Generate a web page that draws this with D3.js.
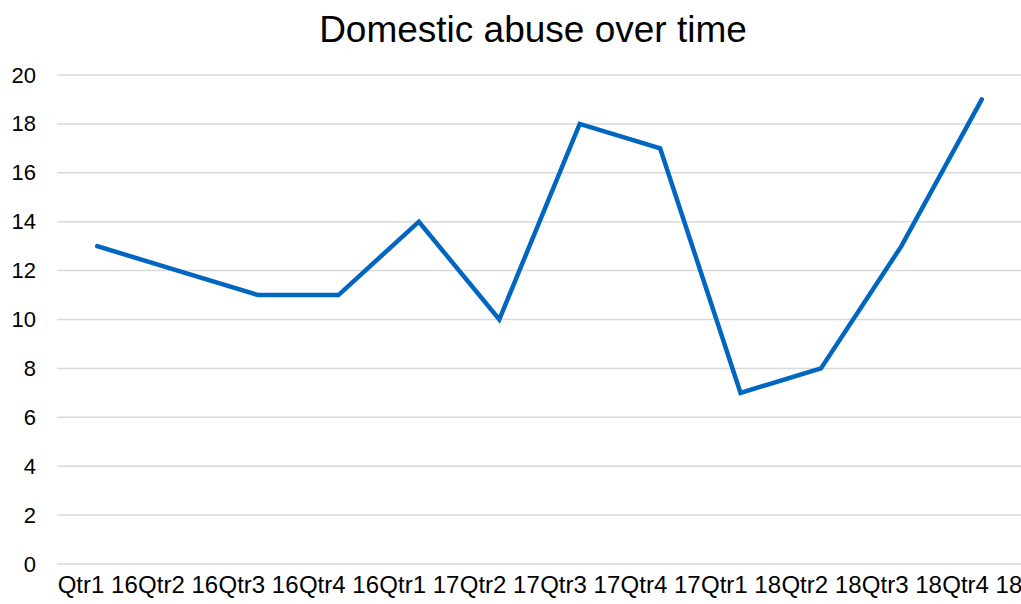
<!DOCTYPE html>
<html>
<head>
<meta charset="utf-8">
<script src="https://cdn.jsdelivr.net/npm/d3@7"></script>
<style>
  html, body { margin: 0; padding: 0; background: #ffffff; }
  svg { display: block; font-family: "Liberation Sans", Arial, sans-serif; }
</style>
</head>
<body>
<svg id="chart" width="1021" height="604"></svg>
<script>
// Quarterly counts of domestic abuse incidents
const quarters = ["Qtr1 16", "Qtr2 16", "Qtr3 16", "Qtr4 16",
                  "Qtr1 17", "Qtr2 17", "Qtr3 17", "Qtr4 17",
                  "Qtr1 18", "Qtr2 18", "Qtr3 18", "Qtr4 18"];
const incidents = [13, 12, 11, 11, 14, 10, 18, 17, 7, 8, 13, 19];
const yTicks = [0, 2, 4, 6, 8, 10, 12, 14, 16, 18, 20];

const svg = d3.select("#chart");
const width = 1021, height = 604;
const margin = { left: 57, right: -1, top: 75, bottom: 40 };

const x = d3.scalePoint()
  .domain(quarters)
  .range([margin.left, width - margin.right])
  .padding(0.5);

const y = d3.scaleLinear()
  .domain([0, 20])
  .range([height - margin.bottom, margin.top]);

// Title
svg.append("text")
  .attr("x", 533)
  .attr("y", 42)
  .attr("text-anchor", "middle")
  .attr("font-size", 37)
  .attr("fill", "#000")
  .text("Domestic abuse over time");

// Horizontal gridlines
svg.append("g")
  .selectAll("line")
  .data(yTicks)
  .join("line")
  .attr("x1", margin.left)
  .attr("x2", width)
  .attr("y1", d => y(d))
  .attr("y2", d => y(d))
  .attr("stroke", "#d9d9d9")
  .attr("stroke-width", 1.5);

// Y axis labels
const yAxis = d3.axisLeft(y).tickValues(yTicks).tickSize(0).tickPadding(0);
const gy = svg.append("g")
  .attr("transform", `translate(36,0)`)
  .call(yAxis);
gy.select(".domain").remove();
gy.selectAll("text")
  .attr("font-size", 22)
  .attr("font-family", "Liberation Sans, Arial, sans-serif")
  .attr("fill", "#000");

// X axis labels
const xAxis = d3.axisBottom(x).tickSize(0).tickPadding(0);
const gx = svg.append("g")
  .attr("transform", `translate(0,${height - 28})`)
  .call(xAxis);
gx.select(".domain").remove();
gx.selectAll("text")
  .attr("font-size", 24)
  .attr("font-family", "Liberation Sans, Arial, sans-serif")
  .attr("fill", "#000");

// Incident line
const line = d3.line()
  .x((d, i) => x(quarters[i]))
  .y(d => y(d));

svg.append("path")
  .datum(incidents)
  .attr("d", line)
  .attr("fill", "none")
  .attr("stroke", "#0066c0")
  .attr("stroke-width", 4.5)
  .attr("stroke-linejoin", "miter")
  .attr("stroke-linecap", "round");
</script>
</body>
</html>
